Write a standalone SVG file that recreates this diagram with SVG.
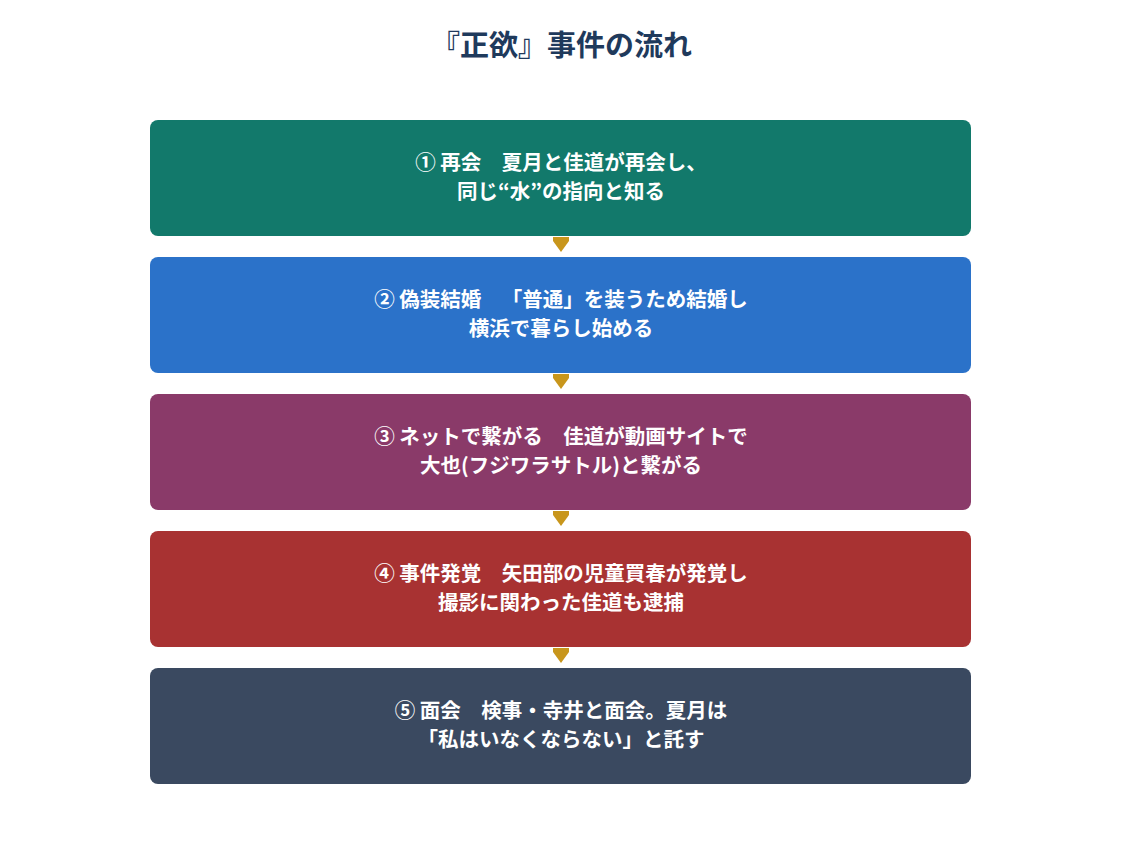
<svg xmlns="http://www.w3.org/2000/svg" width="1122" height="857" viewBox="0 0 1122 857">
<style>
text{text-spacing-trim:space-all}
.t{font-family:"Noto Sans CJK JP","Noto Sans",sans-serif;font-weight:bold;fill:#fff;font-size:20.5px;text-anchor:middle}
.title{font-family:"Noto Sans CJK JP","Noto Sans",sans-serif;font-weight:bold;fill:#1f3a5c;font-size:29px;text-anchor:middle}
.ar{fill:#c8961c}
</style>
<rect width="1122" height="857" fill="#fff"/>
<text class="title" x="561.5" y="56">『正欲』事件の流れ</text>
<g id="connectors">
<path class="ar" d="M553,237 L569,237 L569,241 L561,252 L553,241 Z"/>
<path class="ar" d="M553,374 L569,374 L569,378 L561,389 L553,378 Z"/>
<path class="ar" d="M553,511 L569,511 L569,515 L561,526 L553,515 Z"/>
<path class="ar" d="M553,648 L569,648 L569,652 L561,663 L553,652 Z"/>
</g>
<g id="n1"><rect x="150" y="120" width="821" height="116" rx="8" fill="#12796b"/>
<text class="t" x="561" y="170">① 再会　夏月と佳道が再会し、</text>
<text class="t" x="561" y="199">同じ“水”の指向と知る</text></g>
<g id="n2"><rect x="150" y="257" width="821" height="116" rx="8" fill="#2b72c9"/>
<text class="t" x="561" y="307">② 偽装結婚　「普通」を装うため結婚し</text>
<text class="t" x="561" y="336">横浜で暮らし始める</text></g>
<g id="n3"><rect x="150" y="394" width="821" height="116" rx="8" fill="#8a3a69"/>
<text class="t" x="561" y="444">③ ネットで繋がる　佳道が動画サイトで</text>
<text class="t" x="561" y="473">大也(フジワラサトル)と繋がる</text></g>
<g id="n4"><rect x="150" y="531" width="821" height="116" rx="8" fill="#a83232"/>
<text class="t" x="561" y="581">④ 事件発覚　矢田部の児童買春が発覚し</text>
<text class="t" x="561" y="610">撮影に関わった佳道も逮捕</text></g>
<g id="n5"><rect x="150" y="668" width="821" height="116" rx="8" fill="#3a4960"/>
<text class="t" x="561" y="718">⑤ 面会　検事・寺井と面会。夏月は</text>
<text class="t" x="561" y="747">「私はいなくならない」と託す</text></g>
</svg>
